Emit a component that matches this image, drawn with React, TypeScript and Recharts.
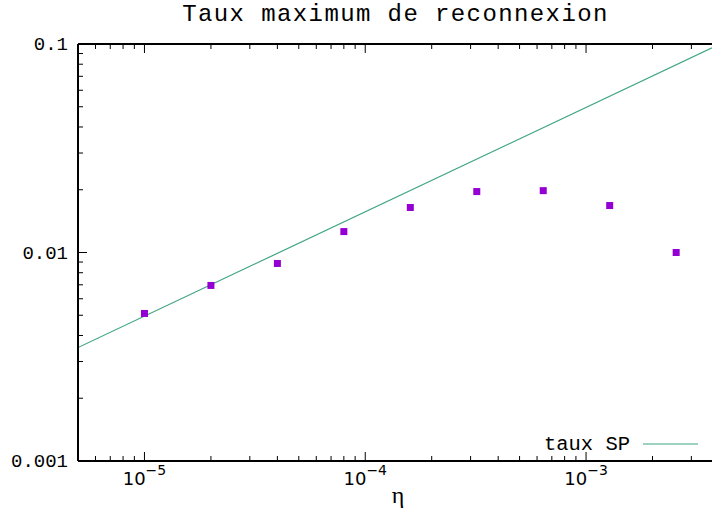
import React from 'react';
import { ComposedChart, Scatter, Line, XAxis, YAxis, ReferenceLine } from 'recharts';

// Measured maximum reconnection rate vs resistivity eta
const etaValues = [1e-5, 2e-5, 4e-5, 8e-5, 1.6e-4, 3.2e-4, 6.4e-4, 1.28e-3, 2.56e-3];
const maxRates = [0.0051, 0.00695, 0.00886, 0.0126, 0.01644, 0.0196, 0.0198, 0.0168, 0.01];

// Sweet-Parker reference line end points
const spEta = [5e-6, 3.72e-3];
const spRates = [0.0035, 0.0958];

const xDomain = [5e-6, 3.72e-3];
const yDomain = [0.001, 0.1];

const xTicks = [
  6e-6, 7e-6, 8e-6, 9e-6,
  1e-5, 2e-5, 3e-5, 4e-5, 5e-5, 6e-5, 7e-5, 8e-5, 9e-5,
  1e-4, 2e-4, 3e-4, 4e-4, 5e-4, 6e-4, 7e-4, 8e-4, 9e-4,
  1e-3, 2e-3, 3e-3,
];
const xMajorTicks = [1e-5, 1e-4, 1e-3];
const xMajorExponents = ['\u22125', '\u22124', '\u22123'];

const yTicks = [
  0.001, 0.002, 0.003, 0.004, 0.005, 0.006, 0.007, 0.008, 0.009,
  0.01, 0.02, 0.03, 0.04, 0.05, 0.06, 0.07, 0.08, 0.09,
  0.1,
];
const yMajorTicks = [0.001, 0.01, 0.1];
const yMajorLabels = ['0.001', '0.01', '0.1'];

const titleText = 'Taux maximum de reconnexion';
const xAxisTitle = '\u03b7';
const legendLabel = 'taux SP';

const pointData = etaValues.map((eta, i) => ({ eta, rate: maxRates[i] }));
const spData = spEta.map((eta, i) => ({ eta, rate: spRates[i] }));

const W = 712;
const H = 516;
const PLOT_LEFT = 78;
const PLOT_TOP = 44;
const PLOT_BOTTOM = 461;
const MONO = '"Liberation Mono", "Courier New", monospace';
const LINE_COLOR = '#3fa582';
const POINT_COLOR = '#9400d3';

const findMajor = (arr: number[], v: number) =>
  arr.findIndex((m) => Math.abs(Math.log10(m) - Math.log10(v)) < 1e-6);

const XTick = (props: any) => {
  const { x, y, payload } = props;
  const idx = findMajor(xMajorTicks, payload.value);
  const len = idx >= 0 ? 9 : 5;
  return (
    <g>
      <line x1={x} y1={y} x2={x} y2={y - len} stroke="#000" strokeWidth={1} />
      <line x1={x} y1={PLOT_TOP} x2={x} y2={PLOT_TOP + len} stroke="#000" strokeWidth={1} />
      {idx >= 0 && (
        <text x={x} y={y + 24} textAnchor="middle" fontFamily='"DejaVu Sans", sans-serif' fontSize={18} fill="#000">
          10
          <tspan dy={-10} fontSize={14}>{xMajorExponents[idx]}</tspan>
        </text>
      )}
    </g>
  );
};

const YTick = (props: any) => {
  const { x, y, payload } = props;
  const idx = findMajor(yMajorTicks, payload.value);
  const len = idx >= 0 ? 9 : 5;
  return (
    <g>
      <line x1={x} y1={y} x2={x + len} y2={y} stroke="#000" strokeWidth={1} />
      {idx >= 0 && (
        <text x={x - 10} y={y + 6} textAnchor="end" fontFamily={MONO} fontSize={19} fill="#000">
          {yMajorLabels[idx]}
        </text>
      )}
    </g>
  );
};

const SquareShape = (props: any) => {
  const { cx, cy } = props;
  if (cx == null || cy == null) return null;
  return <rect x={cx - 3.5} y={cy - 3.5} width={7} height={7} fill={POINT_COLOR} />;
};

export default function App() {
  return (
    <div style={{ position: 'absolute', left: 0, top: 0, width: W, height: H, background: '#fff', overflow: 'hidden' }}>
      <ComposedChart
        width={W}
        height={H}
        margin={{ top: PLOT_TOP, right: 0, bottom: 0, left: 0 }}
      >
        <XAxis
          dataKey="eta"
          type="number"
          scale="log"
          domain={xDomain}
          allowDataOverflow
          ticks={xTicks}
          interval={0}
          tick={<XTick />}
          tickLine={false}
          tickSize={0}
          tickMargin={0}
          height={H - PLOT_BOTTOM}
          axisLine={{ stroke: '#000', strokeWidth: 2 }}
        />
        <YAxis
          dataKey="rate"
          type="number"
          scale="log"
          domain={yDomain}
          allowDataOverflow
          ticks={yTicks}
          interval={0}
          tick={<YTick />}
          tickLine={false}
          tickSize={0}
          tickMargin={0}
          width={PLOT_LEFT}
          axisLine={{ stroke: '#000', strokeWidth: 2 }}
        />
        <ReferenceLine y={0.1} stroke="#000" strokeWidth={2} ifOverflow="visible" />
        <Line
          data={spData}
          dataKey="rate"
          type="linear"
          stroke={LINE_COLOR}
          strokeWidth={1.2}
          dot={false}
          activeDot={false}
          isAnimationActive={false}
          legendType="line"
        />
        <Scatter
          data={pointData}
          dataKey="rate"
          fill={POINT_COLOR}
          shape={<SquareShape />}
          isAnimationActive={false}
        />
      </ComposedChart>
      <svg
        width={W}
        height={H}
        style={{ position: 'absolute', left: 0, top: 0, pointerEvents: 'none' }}
      >
        <text x={395.5} y={21} textAnchor="middle" fontFamily={MONO} fontSize={24} letterSpacing={1.4} fill="#000">
          {titleText}
        </text>
        <text x={398} y={503} textAnchor="middle" fontFamily='"Liberation Serif", serif' fontSize={24} fill="#000">
          {xAxisTitle}
        </text>
        <text x={630} y={450} textAnchor="end" fontFamily={MONO} fontSize={20.5} fill="#000">
          {legendLabel}
        </text>
        <line x1={643} y1={444} x2={698} y2={444} stroke={LINE_COLOR} strokeWidth={1.2} />
      </svg>
    </div>
  );
}
